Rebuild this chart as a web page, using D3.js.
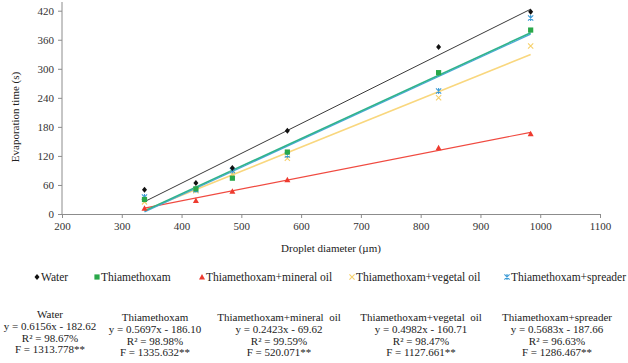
<!DOCTYPE html>
<html>
<head>
<meta charset="utf-8">
<script src="https://cdn.jsdelivr.net/npm/d3@7"></script>
<style>
  body { margin: 0; background: #fff; }
  .axis path, .axis line { stroke: #8c8c8c; }
</style>
</head>
<body>
<div id="chart"></div>
<script>
const width = 628;
const height = 363;
const serif = "'Liberation Serif'";

// droplet diameter (µm) of each treatment point
const diameters = [338, 424, 485, 577, 830, 984];
const water = [50, 64, 95, 172, 345, 418];
const thiamethoxam = [30, 52, 74, 128, 292, 380];
const mineralOil = [12, 28, 47, 71, 137, 166];
const vegetalOil = [25, 48, 82, 115, 240, 347];
const spreader = [35, 50, 90, 122, 254, 405];

const seriesNames = ['Water', 'Thiamethoxam', 'Thiamethoxam+mineral oil', 'Thiamethoxam+vegetal oil', 'Thiamethoxam+spreader'];
const blockTitles = ['Water', 'Thiamethoxam', 'Thiamethoxam+mineral  oil', 'Thiamethoxam+vegetal  oil', 'Thiamethoxam+spreader'];
const slopes = [0.6156, 0.5697, 0.2423, 0.4982, 0.5683];
const intercepts = [-182.62, -186.10, -69.62, -160.71, -187.66];
const equations = ['y = 0.6156x - 182.62', 'y = 0.5697x - 186.10', 'y = 0.2423x - 69.62', 'y = 0.4982x - 160.71', 'y = 0.5683x - 187.66'];
const r2Labels = ['98.67%', '98.98%', '99.59%', '98.47%', '96.63%'];
const fLabels = ['1313.778**', '1335.632**', '520.071**', '1127.661**', '1286.467**'];
const xTicks = [200, 300, 400, 500, 600, 700, 800, 900, 1000, 1100];
const yTicks = [0, 60, 120, 180, 240, 300, 360, 420];

const markerColors = ['#111', '#2aa84a', '#ee3b2f', '#f6d06a', '#3d9bd6'];
const lineColors = ['#3a3a3a', '#2fb38a', '#f04a40', '#f9d77e', '#4aa6da'];
const lineWidths = [1, 1.6, 1.2, 1.6, 1.2];
const symbols = ['diamond', 'square', 'triangle', 'cross', 'star'];
const allValues = [water, thiamethoxam, mineralOil, vegetalOil, spreader];

const svg = d3.select('#chart').append('svg')
  .attr('width', width)
  .attr('height', height);

const x = d3.scaleLinear().domain([200, 1100]).range([62, 600]);
const y = d3.scaleLinear().domain([0, 420]).range([214, 10.7]);

// axes
const xAxis = svg.append('g')
  .attr('class', 'axis')
  .attr('transform', 'translate(0,' + y(0) + ')')
  .call(d3.axisBottom(x).tickValues(xTicks).tickFormat(d3.format('d')).tickSize(4).tickSizeOuter(0).tickPadding(4));

const yAxis = svg.append('g')
  .attr('class', 'axis')
  .attr('transform', 'translate(' + x(200) + ',0)')
  .call(d3.axisLeft(y).tickValues(yTicks).tickFormat(d3.format('d')).tickSize(4).tickSizeOuter(0).tickPadding(4));
yAxis.select('.domain').attr('d', 'M0,' + y(0) + 'V2');
svg.selectAll('.axis').attr('font-family', null).attr('font-size', null);

svg.selectAll('.axis text')
  .attr('fill', '#333');

svg.append('text')
  .attr('x', 331)
  .attr('y', 252)
  .attr('text-anchor', 'middle')
  .attr('fill', '#222')
  .text('Droplet diameter (µm)');

svg.append('text')
  .attr('transform', 'translate(19,117) rotate(-90)')
  .attr('text-anchor', 'middle')
  .attr('fill', '#222')
  .text('Evaporation time (s)');

// draw marker shapes
function drawMarker(sel, kind, color, cx, cy) {
  if (kind === 'diamond') {
    sel.append('path').attr('d', 'M0,-3L2.5,0L0,3L-2.5,0Z')
      .attr('transform', 'translate(' + cx + ',' + cy + ')').attr('fill', color);
  } else if (kind === 'square') {
    sel.append('rect').attr('x', cx - 2.6).attr('y', cy - 2.6).attr('width', 5.2).attr('height', 5.2).attr('fill', color);
  } else if (kind === 'triangle') {
    sel.append('path').attr('d', 'M0,-3L3,2.5L-3,2.5Z')
      .attr('transform', 'translate(' + cx + ',' + cy + ')').attr('fill', color);
  } else if (kind === 'cross') {
    sel.append('path').attr('d', 'M-2.6,-2.6L2.6,2.6M-2.6,2.6L2.6,-2.6')
      .attr('transform', 'translate(' + cx + ',' + cy + ')')
      .attr('stroke', color).attr('stroke-width', 1.1).attr('fill', 'none');
  } else {
    sel.append('path').attr('d', 'M-2.6,-2.6L2.6,2.6M-2.6,2.6L2.6,-2.6M0,-3L0,3')
      .attr('transform', 'translate(' + cx + ',' + cy + ')')
      .attr('stroke', color).attr('stroke-width', 1.1).attr('fill', 'none');
  }
}

// trend lines from the printed equations
const xFirst = d3.min(diameters);
const xLast = d3.max(diameters);
const line = d3.line().x(d => x(d[0])).y(d => y(d[1]));
const lineOrder = [3, 2, 0, 4, 1];
lineOrder.forEach(i => {
  svg.append('path')
    .attr('d', line([[xFirst, slopes[i] * xFirst + intercepts[i]], [xLast, slopes[i] * xLast + intercepts[i]]]))
    .attr('stroke', lineColors[i])
    .attr('stroke-width', lineWidths[i])
    .attr('fill', 'none');
});

// points
const pointOrder = [3, 4, 2, 1, 0];
pointOrder.forEach(i => {
  const g = svg.append('g');
  allValues[i].forEach((v, j) => {
    drawMarker(g, symbols[i], markerColors[i], x(diameters[j]), y(v));
  });
});

// legend
const legendX = [37, 97, 202, 352, 507];
const legend = svg.append('g');
seriesNames.forEach((name, i) => {
  drawMarker(legend, symbols[i], markerColors[i], legendX[i], 277);
  legend.append('text')
    .attr('class', 'legend-text')
    .attr('x', legendX[i] + 4)
    .attr('y', 281)
    .attr('fill', '#222')
    .text(name);
});

// equation blocks
const blockX = [50, 155, 279, 421, 557];
const blockTop = [318, 321, 321, 321, 321];
blockTitles.forEach((name, i) => {
  const lines = [name, equations[i], 'R² = ' + r2Labels[i], 'F = ' + fLabels[i]];
  lines.forEach((t, k) => {
    svg.append('text')
      .attr('x', blockX[i])
      .attr('y', blockTop[i] + k * 11.8)
      .attr('text-anchor', 'middle')
      .style('white-space', 'pre')
      .attr('fill', '#222')
      .text(t);
  });
});

// fonts set on every text node
svg.selectAll('text')
  .style('font-family', serif)
  .style('font-size', '11px');
svg.selectAll('.legend-text').style('font-size', '11.5px');
</script>
</body>
</html>
